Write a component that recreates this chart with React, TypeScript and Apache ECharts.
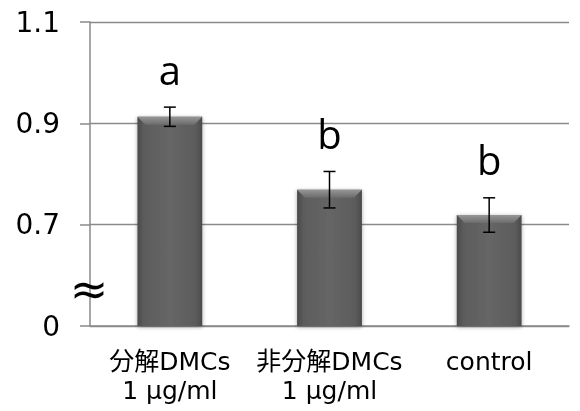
import React, { useEffect, useRef } from "react";
import * as echarts from "echarts";

const categories = ["分解DMCs\n1 μg/ml", "非分解DMCs\n1 μg/ml", "control"];
const means = [0.913, 0.769, 0.719];
const errors = [0.019, 0.036, 0.034];
const letters = ["a", "b", "b"];
const yTickLabels = ["0", "0.7", "0.9", "1.1"];
const BREAK_SHIFT = 0.5; // values above the axis break are drawn shifted down by this

export default function App() {
  const ref = useRef<HTMLDivElement>(null);
  useEffect(() => {
    const chart = echarts.init(ref.current!, null, { renderer: "svg" });
    const toDisplay = (v: number) => v - BREAK_SHIFT;
    const data = means.map((m, i) => [
      i,
      toDisplay(m),
      toDisplay(m - errors[i]),
      toDisplay(m + errors[i]),
    ]);
    const gray = "#8a8a8a";
    const bodyGrad = new echarts.graphic.LinearGradient(0, 0, 1, 0, [
      { offset: 0, color: "#4a4a4a" },
      { offset: 0.1, color: "#5c5c5c" },
      { offset: 0.5, color: "#666666" },
      { offset: 0.9, color: "#5c5c5c" },
      { offset: 1, color: "#4a4a4a" },
    ]);
    const topGrad = new echarts.graphic.LinearGradient(0, 0, 0, 1, [
      { offset: 0, color: "#969696" },
      { offset: 1, color: "#6c6c6c" },
    ]);
    chart.setOption({
      animation: false,
      grid: { left: 90, right: 11, top: 22, bottom: 85 },
      xAxis: {
        type: "category",
        data: categories,
        axisLine: { lineStyle: { color: gray, width: 1.5 } },
        axisTick: { length: 8, lineStyle: { color: gray, width: 1.5 } },
        axisLabel: {
          interval: 0,
          color: "#000",
          fontSize: 25,
          lineHeight: 29,
          margin: 21,
          fontFamily: "'DejaVu Sans', 'Noto Sans CJK JP', sans-serif",
        },
      },
      yAxis: {
        type: "value",
        min: 0,
        max: 0.6,
        interval: 0.2,
        axisLine: { show: true, lineStyle: { color: gray, width: 1.5 } },
        axisTick: { show: true, length: 10, lineStyle: { color: gray, width: 1.5 } },
        splitLine: { lineStyle: { color: gray, width: 1.3 } },
        axisLabel: {
          color: "#000",
          fontSize: 28,
          margin: 30,
          fontFamily: "'DejaVu Sans', sans-serif",
          formatter: (v: number) => yTickLabels[Math.round(v / 0.2)],
        },
      },
      graphic: [
        {
          type: "text",
          x: 89,
          y: 289,
          z: 10,
          style: {
            text: "≈",
            fontSize: 46,
            fontFamily: "'DejaVu Sans', sans-serif",
            fill: "#000",
            align: "center",
            verticalAlign: "middle",
          },
        },
      ],
      series: [
        {
          type: "custom",
          data,
          encode: { x: 0, y: [1, 2, 3] },
          renderItem: (params: any, api: any) => {
            const idx = api.value(0);
            const base = api.coord([idx, 0]);
            const top = api.coord([idx, api.value(1)]);
            const lo = api.coord([idx, api.value(2)]);
            const hi = api.coord([idx, api.value(3)]);
            const bw = api.size([1, 0])[0] * 0.406;
            const x0 = base[0] - bw / 2;
            const h = base[1] - top[1];
            const bev = 8;
            const cap = 6;
            const cx = base[0];
            return {
              type: "group",
              children: [
                {
                  type: "rect",
                  shape: { x: x0, y: top[1], width: bw, height: h },
                  style: {
                    fill: bodyGrad,
                    shadowBlur: 4,
                    shadowColor: "rgba(0,0,0,0.35)",
                    shadowOffsetY: 1,
                  },
                },
                {
                  type: "polygon",
                  shape: {
                    points: [
                      [x0, top[1]],
                      [x0 + bw, top[1]],
                      [x0 + bw - bev, top[1] + bev],
                      [x0 + bev, top[1] + bev],
                    ],
                  },
                  style: { fill: topGrad },
                },
                {
                  type: "line",
                  shape: { x1: cx, y1: hi[1], x2: cx, y2: lo[1] },
                  style: { stroke: "#000", lineWidth: 1.5 },
                },
                {
                  type: "line",
                  shape: { x1: cx - cap, y1: hi[1], x2: cx + cap, y2: hi[1] },
                  style: { stroke: "#000", lineWidth: 1.5 },
                },
                {
                  type: "line",
                  shape: { x1: cx - cap, y1: lo[1], x2: cx + cap, y2: lo[1] },
                  style: { stroke: "#000", lineWidth: 1.5 },
                },
                {
                  type: "text",
                  x: cx,
                  y: hi[1] - 38,
                  style: {
                    text: letters[params.dataIndex],
                    fontSize: 40,
                    fontFamily: "'Open Sans', sans-serif",
                    fill: "#000",
                    align: "center",
                    verticalAlign: "middle",
                  },
                },
              ],
            };
          },
        },
      ],
    });
    return () => chart.dispose();
  }, []);
  return (
    <div
      ref={ref}
      style={{ width: 580, height: 411, position: "fixed", left: 0, top: 0 }}
    />
  );
}
